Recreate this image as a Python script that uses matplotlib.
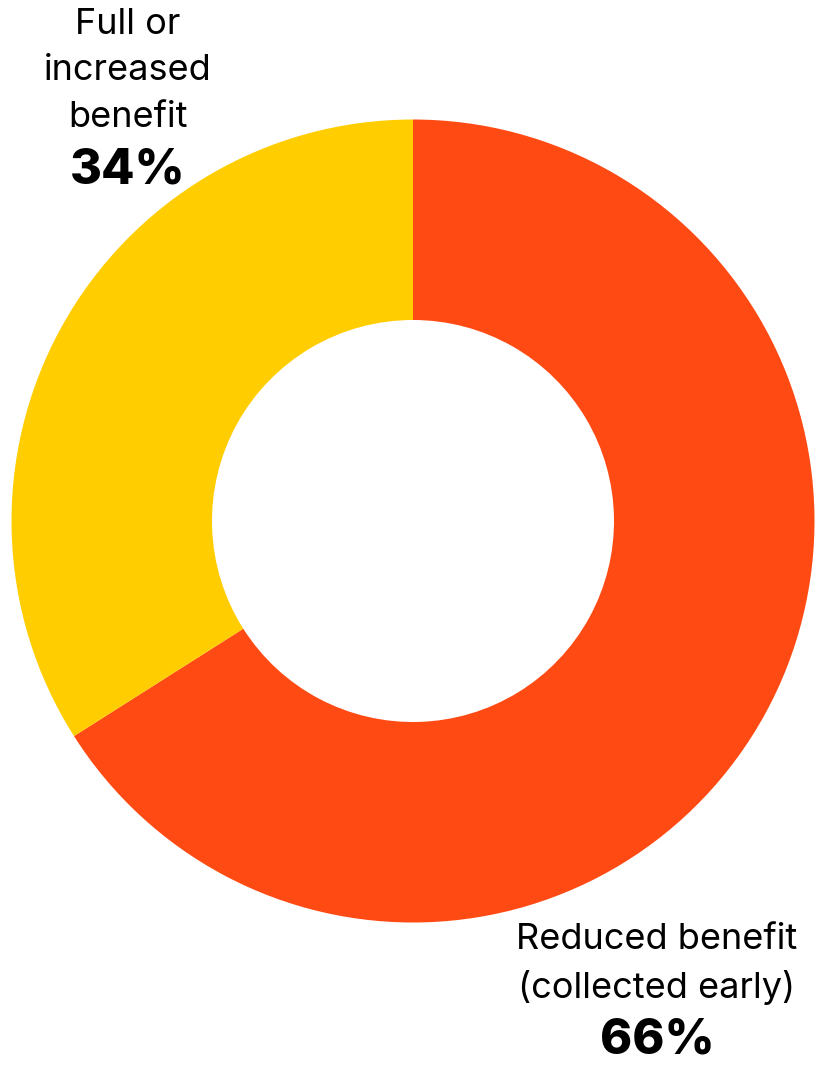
#!/usr/bin/env python3

import matplotlib.pyplot as plt

labels = ['Reduced benefit\n(collected early)', 'Full or\nincreased\nbenefit']
shares = [66, 34]
colours = ['#FF4A14', '#FFCD00']

plt.rcParams['font.family'] = ['Inter', 'DejaVu Sans']

fig = plt.figure(figsize=(8.17, 10.66), dpi=100)
ax = fig.add_axes([0, 0, 1, 1])

# donut, clockwise from 12 o'clock
ax.pie(shares, colors=colours, startangle=90, counterclock=False,
       center=(413, 545), radius=401.5, frame=True,
       wedgeprops=dict(width=200.5, linewidth=0))
ax.set_xlim(0, 817)
ax.set_ylim(0, 1066)
ax.set_aspect('equal')
ax.axis('off')

# left label
ax.text(128, 1066 - 71, labels[1], ha='center', va='center',
        fontsize=26, linespacing=1.52)
ax.text(128, 1066 - 170, f'{shares[1]}%', ha='center', va='center',
        fontsize=35, fontweight='heavy')

# right label
ax.text(657, 1066 - 964, labels[0], ha='center', va='center',
        fontsize=26, linespacing=1.52)
ax.text(657, 1066 - 1040, f'{shares[0]}%', ha='center', va='center',
        fontsize=35, fontweight='heavy')

fig.savefig('out.png', dpi=100)
